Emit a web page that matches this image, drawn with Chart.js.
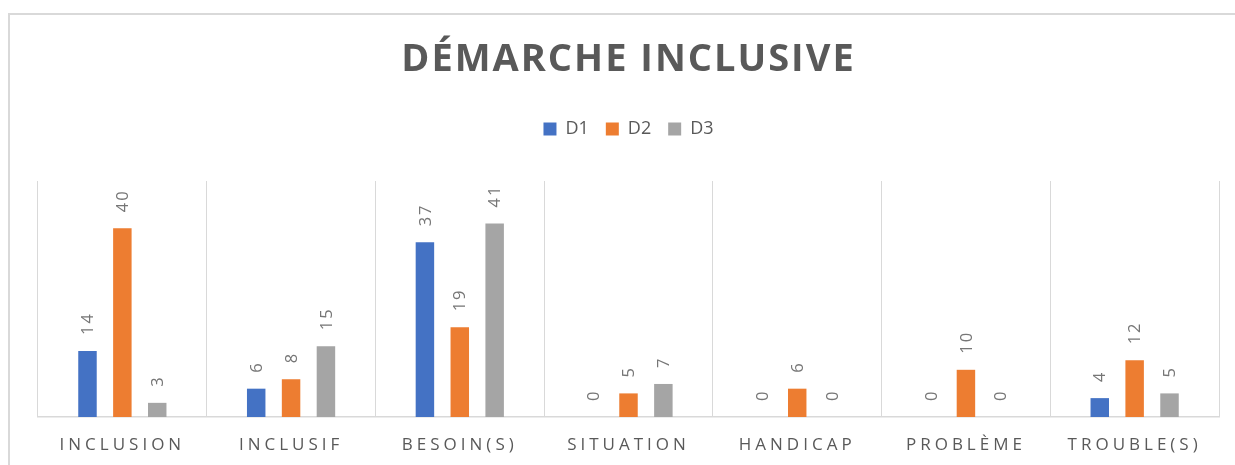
<!DOCTYPE html>
<html>
<head>
<meta charset="utf-8">
<script src="https://cdn.jsdelivr.net/npm/chart.js@4.4.0/dist/chart.umd.min.js"></script>
<style>
  html, body { margin: 0; padding: 0; background: #fff; }
  #wrap { width: 1235px; height: 465px; }
</style>
</head>
<body>
<div id="wrap"><canvas id="chart"></canvas></div>
<script>
// données
const titre = 'DÉMARCHE INCLUSIVE';
const categories = ['INCLUSION', 'INCLUSIF', 'BESOIN(S)', 'SITUATION', 'HANDICAP', 'PROBLÈME', 'TROUBLE(S)'];
const series = ['D1', 'D2', 'D3'];
const d1 = [14, 6, 37, 0, 0, 0, 4];
const d2 = [40, 8, 19, 5, 6, 10, 12];
const d3 = [3, 15, 41, 7, 0, 0, 5];
const couleurs = ['#4472C4', '#ED7D31', '#A5A5A5'];

const gris = '#595959';

// cadre, étiquettes de valeurs, titre espacé
const decor = {
    id: 'decor',
    beforeInit(chart) {
        // un peu d'air sous la légende
        const fit = chart.legend.fit;
        chart.legend.fit = function () {
            fit.call(this);
            this.height += 33;
        };
    },
    beforeDraw(chart) {
        const ctx = chart.ctx;
        ctx.letterSpacing = '0px';
        ctx.save();
        ctx.strokeStyle = '#d9d9d9';
        ctx.lineWidth = 2;
        ctx.strokeRect(9, 14, chart.width + 20, chart.height + 20);
        ctx.restore();
    },
    afterDatasetsDraw(chart) {
        const ctx = chart.ctx;
        ctx.save();
        ctx.letterSpacing = '2px';
        ctx.font = '16.5px "Open Sans"';
        ctx.fillStyle = '#767676';
        ctx.textAlign = 'left';
        ctx.textBaseline = 'middle';
        chart.data.datasets.forEach((ds, i) => {
            chart.getDatasetMeta(i).data.forEach((bar, j) => {
                ctx.save();
                ctx.translate(bar.x + 1, bar.y - 16);
                ctx.rotate(-Math.PI / 2);
                ctx.fillText(String(ds.data[j]), 0, 0);
                ctx.restore();
            });
        });
        ctx.restore();
        // les libellés de l'axe x sont dessinés après (ticks.z: 1)
        ctx.letterSpacing = '4px';
    },
    afterDraw(chart) {
        const ctx = chart.ctx;
        const area = chart.chartArea;
        ctx.save();
        ctx.letterSpacing = '2px';
        ctx.font = 'bold 38px "Open Sans"';
        ctx.fillStyle = gris;
        ctx.textAlign = 'center';
        ctx.textBaseline = 'middle';
        ctx.fillText(titre, (area.left + area.right) / 2, 60);
        ctx.restore();
        ctx.letterSpacing = '0px';
    }
};

const datasets = [d1, d2, d3].map((vals, i) => ({
    label: series[i],
    data: vals,
    backgroundColor: couleurs[i],
    categoryPercentage: 0.62,
    barPercentage: 0.53
}));

new Chart(document.getElementById('chart'), {
    type: 'bar',
    data: {labels: categories, datasets: datasets},
    plugins: [decor],
    options: {
        responsive: true,
        maintainAspectRatio: false,
        animation: false,
        layout: {padding: {top: 103, left: 38, right: 16, bottom: 0}},
        plugins: {
            legend: {
                position: 'top',
                labels: {
                    color: gris,
                    font: {family: 'Open Sans', size: 18},
                    boxWidth: 13,
                    boxHeight: 13,
                    padding: 17
                }
            },
            title: {display: false},
            tooltip: {enabled: false}
        },
        scales: {
            x: {
                grid: {offset: true, color: '#d9d9d9', lineWidth: 1, drawTicks: false},
                border: {color: '#d9d9d9', width: 1.5},
                ticks: {
                    z: 1,
                    color: gris,
                    font: {family: 'Open Sans', size: 17},
                    padding: 18,
                    maxRotation: 0,
                    autoSkip: false
                },
                afterFit(scale) {
                    scale.height = 48;
                }
            },
            y: {display: false, min: 0, max: 50}
        }
    }
});
</script>
</body>
</html>
